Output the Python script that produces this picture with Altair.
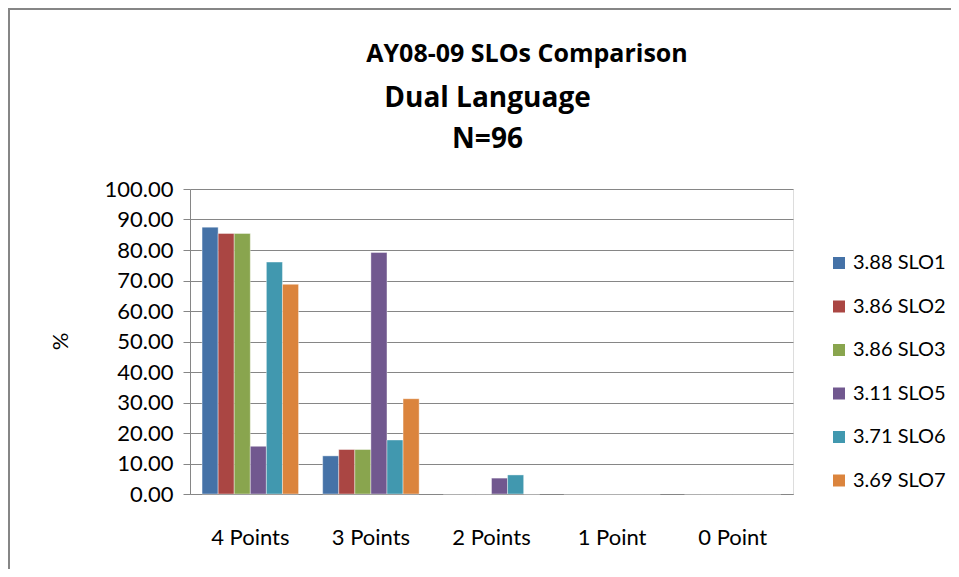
import altair as alt
import pandas as pd

categories = ["4 Points", "3 Points", "2 Points", "1 Point", "0 Point"]
series = ["3.88 SLO1", "3.86 SLO2", "3.86 SLO3", "3.11 SLO5", "3.71 SLO6", "3.69 SLO7"]
colors = ["#4572A7", "#AA4643", "#89A54E", "#71588F", "#4198AF", "#DB843D"]
slo1 = [87.50, 12.50, 0.00, 0.00, 0.00]
slo2 = [85.42, 14.58, 0.00, 0.00, 0.00]
slo3 = [85.42, 14.58, 0.00, 0.00, 0.00]
slo5 = [15.63, 79.17, 5.21, 0.00, 0.00]
slo6 = [76.04, 17.71, 6.25, 0.00, 0.00]
slo7 = [68.75, 31.25, 0.00, 0.00, 0.00]
values = [slo1, slo2, slo3, slo5, slo6, slo7]

title_line1 = "AY08-09 SLOs Comparison"
title_rest = ["Dual Language", "N=96"]

rows = []
for s, vals in zip(series, values):
    for c, v in zip(categories, vals):
        rows.append({"category": c, "series": s, "value": v})
df = pd.DataFrame(rows)

FONT = "Lato"
TFONT = "Open Sans"
GRAY = "#868686"
W, H = 603, 305

bars = alt.Chart(df).mark_bar(stroke="white", strokeWidth=0.4).encode(
    x=alt.X("category:N", sort=categories,
            scale=alt.Scale(paddingInner=0.2, paddingOuter=0.1),
            axis=alt.Axis(title=None, labelAngle=0, ticks=False, labelPadding=33,
                          labelFontSize=22, labelFont=FONT, labelColor="black",
                          domainColor=GRAY, domainWidth=1)),
    xOffset=alt.XOffset("series:N", sort=series, scale=alt.Scale(paddingInner=0, paddingOuter=0)),
    y=alt.Y("value:Q", scale=alt.Scale(domain=[0, 100]),
            axis=alt.Axis(title="%", values=list(range(0, 101, 10)), format=".2f",
                          labelFontSize=22, labelFont=FONT, labelColor="black",
                          labelPadding=10, tickSize=7, tickColor=GRAY, domainColor=GRAY,
                          gridColor=GRAY, gridWidth=1,
                          titleFont=FONT, titleFontSize=22, titleFontWeight="normal",
                          titleColor="black", titleX=-130, titleY=152,
                          titleAngle=-90, titleAlign="center", titleBaseline="middle")),
    color=alt.Color("series:N", sort=series,
                    scale=alt.Scale(domain=series, range=colors),
                    legend=alt.Legend(title=None, orient="none", legendX=639, legendY=64,
                                      symbolType="square", symbolSize=144, symbolStrokeWidth=0,
                                      labelFont=FONT, labelFontSize=20, labelColor="black",
                                      labelOffset=4, rowPadding=23.5)),
)

border = alt.Chart(pd.DataFrame({"a": [0]})).mark_rect(
    fill=None, stroke=GRAY, strokeWidth=2
).encode(
    x=alt.value(-181), x2=alt.value(800), y=alt.value(-180), y2=alt.value(700)
)

line1 = alt.Chart(pd.DataFrame({"t": [title_line1]})).mark_text(
    font=TFONT, fontWeight="bold", fontSize=25, color="black",
    align="center", baseline="alphabetic"
).encode(text="t:N", x=alt.value(337), y=alt.value(-127))

chart = alt.layer(border, line1, bars).properties(
    width=W, height=H,
    title=alt.Title(
        text=title_rest,
        font=TFONT, fontSize=28, fontWeight="bold", color="black", lineHeight=41,
        anchor="middle", dx=-4, offset=-146, frame="group",
    ),
    autosize=alt.AutoSizeParams(type="none"),
    padding={"left": 182, "top": 181, "right": 158, "bottom": 75},
).configure_view(strokeWidth=0).configure(background="white")

chart.save("out.html", embed_options={"renderer": "svg", "actions": False})
